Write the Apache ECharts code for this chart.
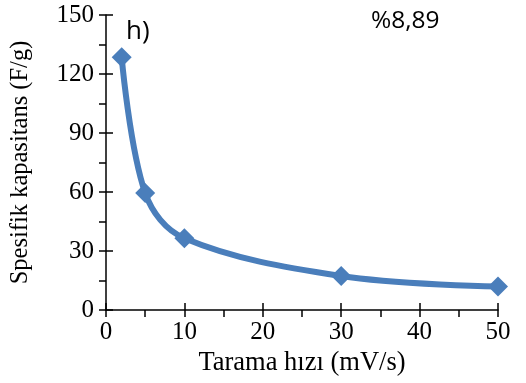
<!DOCTYPE html>
<html>
<head>
<meta charset="utf-8">
<script src="https://cdn.jsdelivr.net/npm/echarts@6/dist/echarts.min.js"></script>
<style>
  html, body { margin: 0; padding: 0; background: #fff; }
  #chart { width: 526px; height: 383px; }
</style>
</head>
<body>
<div id="chart"></div>
<script>
// Scan rate (mV/s) and specific capacitance (F/g)
const scanRates = [2, 5, 10, 30, 50];
const capacitance = [128.5, 59.5, 36.5, 17.3, 11.9];
const xTicks = [0, 10, 20, 30, 40, 50];
const yTicks = [0, 30, 60, 90, 120, 150];

const serif = '"Liberation Serif", "Times New Roman", serif';
const sans = '"Open Sans", "Liberation Sans", sans-serif';
const blue = '#4a7ebb';

const chart = echarts.init(document.getElementById('chart'), null, { renderer: 'canvas' });

const baseX = {
  type: 'value', min: xTicks[0], max: xTicks[xTicks.length - 1], interval: 10,
  splitLine: { show: false }
};
const baseY = {
  type: 'value', min: yTicks[0], max: yTicks[yTicks.length - 1], interval: 30,
  splitLine: { show: false }
};

chart.setOption({
  animation: false,
  grid: { left: 106, right: 28, top: 15, bottom: 73 },
  xAxis: [
    Object.assign({}, baseX, {
      position: 'bottom',
      name: 'Tarama hızı (mV/s)',
      nameLocation: 'middle',
      nameGap: 33,
      nameTextStyle: { fontFamily: serif, fontSize: 26.5, color: '#000' },
      axisLine: { lineStyle: { color: '#000', width: 1.5 } },
      axisTick: { show: true, inside: false, length: 7, lineStyle: { color: '#000', width: 1.5 } },
      minorTick: { show: true, splitNumber: 2, length: 7, lineStyle: { color: '#000', width: 1.5 } },
      axisLabel: { fontFamily: serif, fontSize: 25, color: '#000', margin: 10 }
    }),
    Object.assign({}, baseX, {
      position: 'bottom',
      axisLine: { show: false },
      axisTick: { show: true, inside: true, length: 7, lineStyle: { color: '#000', width: 1.5 } },
      axisLabel: { show: false }
    })
  ],
  yAxis: [
    Object.assign({}, baseY, {
      position: 'left',
      name: 'Spesifik kapasitans (F/g)',
      nameLocation: 'middle',
      nameGap: 73,
      nameTextStyle: { fontFamily: serif, fontSize: 24.5, color: '#000' },
      axisLine: { show: true, lineStyle: { color: '#000', width: 1.5 } },
      axisTick: { show: true, inside: false, length: 7, lineStyle: { color: '#000', width: 1.5 } },
      minorTick: { show: true, splitNumber: 2, length: 7, lineStyle: { color: '#000', width: 1.5 } },
      axisLabel: { fontFamily: serif, fontSize: 25, color: '#000', margin: 12 }
    }),
    Object.assign({}, baseY, {
      position: 'left',
      axisLine: { show: false },
      axisTick: { show: true, inside: true, length: 7, lineStyle: { color: '#000', width: 1.5 } },
      axisLabel: { show: false }
    })
  ],
  graphic: [
    { type: 'text', left: 126, top: 19, style: { text: 'h)', font: '26px ' + sans, fill: '#000' } },
    { type: 'text', left: 371, top: 9, style: { text: '%8,89', font: '24.5px ' + sans, fill: '#000' } }
  ],
  series: [{
    type: 'line',
    xAxisIndex: 0,
    yAxisIndex: 0,
    data: scanRates.map((x, i) => [x, capacitance[i]]),
    smooth: 0.35,
    symbol: 'diamond',
    symbolSize: 20,
    lineStyle: { color: blue, width: 6 },
    itemStyle: { color: blue },
    z: 5
  }]
});
</script>
</body>
</html>
